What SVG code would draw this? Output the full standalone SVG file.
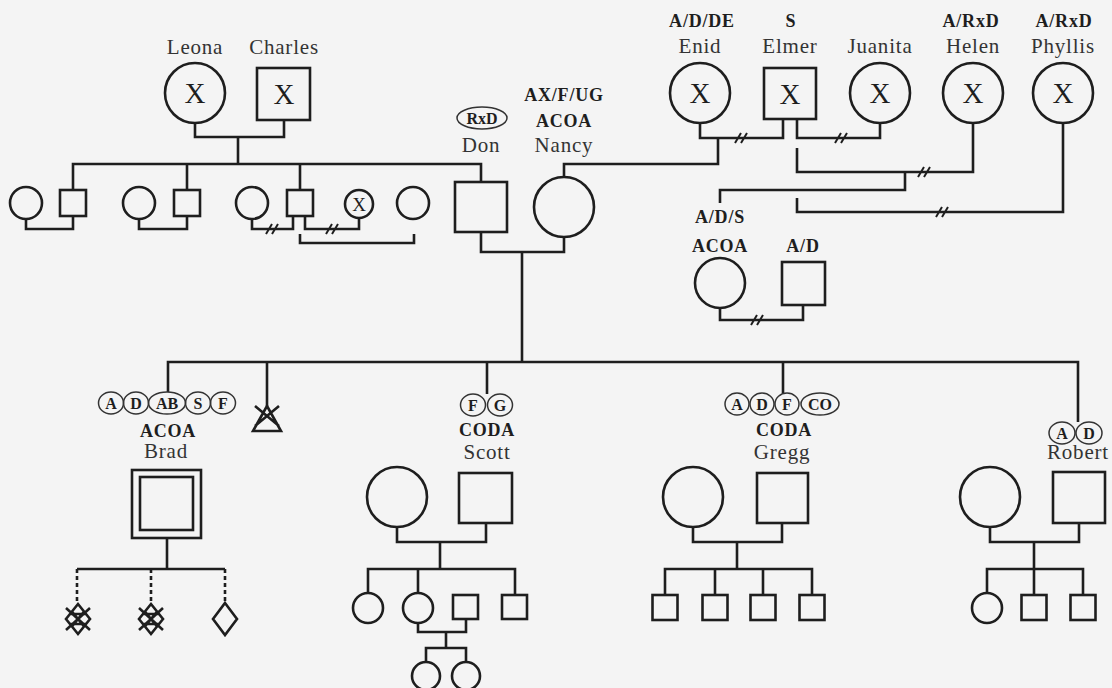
<svg xmlns="http://www.w3.org/2000/svg" xmlns:xlink="http://www.w3.org/1999/xlink" width="1112" height="688" viewBox="0 0 1112 688">
<style>
.ln{fill:none;stroke:#1e1e1e;stroke-width:2.6}
.dt{fill:none;stroke:#1e1e1e;stroke-width:2.6;stroke-dasharray:4 3}
.sh{fill:none;stroke:#1e1e1e;stroke-width:2.6}
.nm{font-family:"Liberation Serif",serif;font-size:21px;fill:#333;text-anchor:middle;letter-spacing:0.8px}
.lb{font-family:"Liberation Serif",serif;font-weight:bold;font-size:18px;fill:#1e1e1e;text-anchor:middle;letter-spacing:0.8px}
.x{font-family:"Liberation Serif",serif;font-size:29px;fill:#1e1e1e;text-anchor:middle}
.xs{font-family:"Liberation Serif",serif;font-size:19px;fill:#1e1e1e;text-anchor:middle}
.cl{font-family:"Liberation Serif",serif;font-weight:bold;font-size:16px;fill:#1e1e1e;text-anchor:middle}
.cr{fill:none;stroke:#333;stroke-width:1.5}
.brk{fill:none;stroke:#1e1e1e;stroke-width:2}
</style>
<defs>
<path id="brk" d="M-7,5 L-1,-5 M-1,5 L5,-5"/>
<g id="hatch">
<path d="M0,-15 L12,0 L0,15 L-12,0 Z M-12,-11 L12,11 M12,-11 L-12,11 M-6,-7.5 L6,7.5 M6,-7.5 L-6,7.5 M-8,-5 L8,-5 M-8,5 L8,5"/>
</g>
</defs>
<rect width="1112" height="688" fill="#f4f4f4"/>

<g id="connectors">
<path class="ln" d="M195,123 V137 H284 V120"/>
<path class="ln" d="M238,137 V164"/>
<path class="ln" d="M73,190 V164 H481 V182"/>
<path class="ln" d="M187,164 V190 M300,164 V190"/>
<path class="ln" d="M26,219 V229 H73 V216"/>
<path class="ln" d="M139,219 V229 H187 V216"/>
<path class="ln" d="M252,219 V229 H293 V216"/>
<path class="ln" d="M305,216 V229 H359 V218"/>
<path class="ln" d="M300,234 V243 H414 V234"/>
<path class="ln" d="M481,232 V252 H564 V237"/>
<path class="ln" d="M522,252 V362"/>
<path class="ln" d="M564,177 V164 H718 V138"/>
<path class="ln" d="M700,123 V138 H783 V119"/>
<path class="ln" d="M797,119 V138 H880 V123"/>
<path class="ln" d="M797,148 V172 H973 V123"/>
<path class="ln" d="M905,172 V190 H720 V203"/>
<path class="ln" d="M797,198 V212 H1063 V123"/>
<path class="ln" d="M720,308 V320 H803 V305"/>
<path class="ln" d="M168,392 V362 H1078 V422"/>
<path class="ln" d="M267,362 V406 M487,362 V394 M783,362 V393"/>
<path class="ln" d="M167,538 V569 M77,569 H225"/>
<path class="dt" d="M77,569 V604 M151,569 V604 M225,569 V603"/>
<path class="ln" d="M397,527 V542 H486 V523 M440,542 V569"/>
<path class="ln" d="M368,593 V569 H515 V595 M418,569 V593"/>
<path class="ln" d="M418,623 V632 H466 V619 M446,632 V648"/>
<path class="ln" d="M426,662 V648 H466 V662"/>
<path class="ln" d="M693,527 V542 H782 V523 M737,542 V569"/>
<path class="ln" d="M665,595 V569 H812 V595 M715,569 V595 M763,569 V595"/>
<path class="ln" d="M990,527 V542 H1079 V523 M1034,542 V569"/>
<path class="ln" d="M987,593 V569 H1083 V595 M1034,569 V595"/>
<g class="brk">
<use href="#brk" x="273" y="229"/>
<use href="#brk" x="333" y="229"/>
<use href="#brk" x="742" y="138"/>
<use href="#brk" x="842" y="138"/>
<use href="#brk" x="925" y="172"/>
<use href="#brk" x="943" y="212"/>
<use href="#brk" x="758" y="320"/>
</g>
</g>

<g id="leona">
<text class="nm" x="195" y="54">Leona</text>
<circle class="sh" cx="195" cy="93" r="30"/>
<text class="x" x="195" y="103">X</text>
</g>
<g id="charles">
<text class="nm" x="284" y="54">Charles</text>
<rect class="sh" x="257" y="68" width="53" height="52"/>
<text class="x" x="284" y="104">X</text>
</g>

<g id="sib1-wife"><circle class="sh" cx="26" cy="203" r="16"/></g>
<g id="sib1"><rect class="sh" x="60" y="190" width="26" height="26"/></g>
<g id="sib2-wife"><circle class="sh" cx="139" cy="203" r="16"/></g>
<g id="sib2"><rect class="sh" x="174" y="190" width="26" height="26"/></g>
<g id="sib3-wife1"><circle class="sh" cx="252" cy="203" r="16"/></g>
<g id="sib3"><rect class="sh" x="287" y="190" width="26" height="26"/></g>
<g id="sib3-wife2">
<circle class="sh" cx="359" cy="204" r="14"/>
<text class="xs" x="359" y="211">X</text>
</g>
<g id="sib4"><circle class="sh" cx="413" cy="203" r="16"/></g>

<g id="don">
<ellipse class="cr" cx="482" cy="118" rx="25" ry="11"/>
<text class="cl" x="482" y="124">RxD</text>
<text class="nm" x="481" y="152">Don</text>
<rect class="sh" x="455" y="182" width="52" height="50"/>
</g>
<g id="nancy">
<text class="lb" x="564" y="101">AX/F/UG</text>
<text class="lb" x="564" y="127">ACOA</text>
<text class="nm" x="564" y="152">Nancy</text>
<circle class="sh" cx="564" cy="207" r="30"/>
</g>

<g id="enid">
<text class="lb" x="702" y="27">A/D/DE</text>
<text class="nm" x="700" y="53">Enid</text>
<circle class="sh" cx="700" cy="93" r="30"/>
<text class="x" x="700" y="103">X</text>
</g>
<g id="elmer">
<text class="lb" x="791" y="27">S</text>
<text class="nm" x="790" y="53">Elmer</text>
<rect class="sh" x="764" y="68" width="52" height="51"/>
<text class="x" x="790" y="104">X</text>
</g>
<g id="juanita">
<text class="nm" x="880" y="53">Juanita</text>
<circle class="sh" cx="880" cy="93" r="30"/>
<text class="x" x="880" y="103">X</text>
</g>
<g id="helen">
<text class="lb" x="971" y="27">A/RxD</text>
<text class="nm" x="973" y="53">Helen</text>
<circle class="sh" cx="973" cy="93" r="30"/>
<text class="x" x="973" y="103">X</text>
</g>
<g id="phyllis">
<text class="lb" x="1064" y="27">A/RxD</text>
<text class="nm" x="1063" y="53">Phyllis</text>
<circle class="sh" cx="1063" cy="93" r="30"/>
<text class="x" x="1063" y="103">X</text>
</g>

<g id="ads">
<text class="lb" x="720" y="223">A/D/S</text>
<text class="lb" x="720" y="252">ACOA</text>
<circle class="sh" cx="720" cy="283" r="25"/>
</g>
<g id="ad">
<text class="lb" x="803" y="252">A/D</text>
<rect class="sh" x="782" y="262" width="43" height="43"/>
</g>

<g id="brad">
<ellipse class="cr" cx="111" cy="403" rx="12.5" ry="11"/><text class="cl" x="111" y="409">A</text>
<ellipse class="cr" cx="136" cy="403" rx="12.5" ry="11"/><text class="cl" x="136" y="409">D</text>
<ellipse class="cr" cx="167" cy="403" rx="18.5" ry="11"/><text class="cl" x="167" y="409">AB</text>
<ellipse class="cr" cx="198" cy="403" rx="12.5" ry="11"/><text class="cl" x="198" y="409">S</text>
<ellipse class="cr" cx="223" cy="403" rx="12.5" ry="11"/><text class="cl" x="223" y="409">F</text>
<text class="lb" x="168" y="437">ACOA</text>
<text class="nm" x="166" y="458">Brad</text>
<rect class="sh" x="132" y="470" width="69" height="68"/>
<rect class="sh" x="140" y="477" width="53" height="53"/>
</g>
<g id="stillbirth">
<path class="sh" d="M267,406 L281,431 L253,431 Z M255,406 L279,426 M279,406 L255,426" stroke-width="2.2"/>
</g>
<g id="brad-child1"><use href="#hatch" x="78" y="619" class="sh" stroke-width="2"/></g>
<g id="brad-child2"><use href="#hatch" x="151" y="619" class="sh" stroke-width="2"/></g>
<g id="brad-child3"><path class="sh" d="M225,603 L237,619 L225,635 L213,619 Z" stroke-width="2.2"/></g>

<g id="scott">
<ellipse class="cr" cx="473" cy="405" rx="12.5" ry="11"/><text class="cl" x="473" y="411">F</text>
<ellipse class="cr" cx="500" cy="405" rx="12.5" ry="11"/><text class="cl" x="500" y="411">G</text>
<text class="lb" x="487" y="436">CODA</text>
<text class="nm" x="487" y="459">Scott</text>
<rect class="sh" x="459" y="473" width="53" height="50"/>
</g>
<g id="scott-wife"><circle class="sh" cx="397" cy="497" r="30"/></g>
<g id="scott-c1"><circle class="sh" cx="368" cy="608" r="15"/></g>
<g id="scott-c2"><circle class="sh" cx="418" cy="608" r="15"/></g>
<g id="scott-c2-husband"><rect class="sh" x="453" y="595" width="25" height="24"/></g>
<g id="scott-c3"><rect class="sh" x="502" y="595" width="25" height="24"/></g>
<g id="scott-gc1"><circle class="sh" cx="426" cy="676" r="14"/></g>
<g id="scott-gc2"><circle class="sh" cx="466" cy="676" r="14"/></g>

<g id="gregg">
<ellipse class="cr" cx="737" cy="404" rx="12" ry="11"/><text class="cl" x="737" y="410">A</text>
<ellipse class="cr" cx="762" cy="404" rx="12" ry="11"/><text class="cl" x="762" y="410">D</text>
<ellipse class="cr" cx="787" cy="404" rx="12" ry="11"/><text class="cl" x="787" y="410">F</text>
<ellipse class="cr" cx="820" cy="404" rx="19" ry="11"/><text class="cl" x="820" y="410">CO</text>
<text class="lb" x="784" y="436">CODA</text>
<text class="nm" x="782" y="459">Gregg</text>
<rect class="sh" x="757" y="473" width="51" height="50"/>
</g>
<g id="gregg-wife"><circle class="sh" cx="693" cy="497" r="30"/></g>
<g id="gregg-c1"><rect class="sh" x="652.5" y="595" width="25" height="25"/></g>
<g id="gregg-c2"><rect class="sh" x="702.5" y="595" width="25" height="25"/></g>
<g id="gregg-c3"><rect class="sh" x="750.5" y="595" width="25" height="25"/></g>
<g id="gregg-c4"><rect class="sh" x="799.5" y="595" width="25" height="25"/></g>

<g id="robert">
<ellipse class="cr" cx="1062" cy="433" rx="13" ry="11"/><text class="cl" x="1062" y="439">A</text>
<ellipse class="cr" cx="1089" cy="433" rx="13" ry="11"/><text class="cl" x="1089" y="439">D</text>
<text class="nm" x="1078" y="459">Robert</text>
<rect class="sh" x="1053" y="472" width="52" height="51"/>
</g>
<g id="robert-wife"><circle class="sh" cx="990" cy="497" r="30"/></g>
<g id="robert-c1"><circle class="sh" cx="987" cy="608" r="15"/></g>
<g id="robert-c2"><rect class="sh" x="1021.5" y="595" width="25" height="25"/></g>
<g id="robert-c3"><rect class="sh" x="1070.5" y="595" width="25" height="25"/></g>
</svg>
